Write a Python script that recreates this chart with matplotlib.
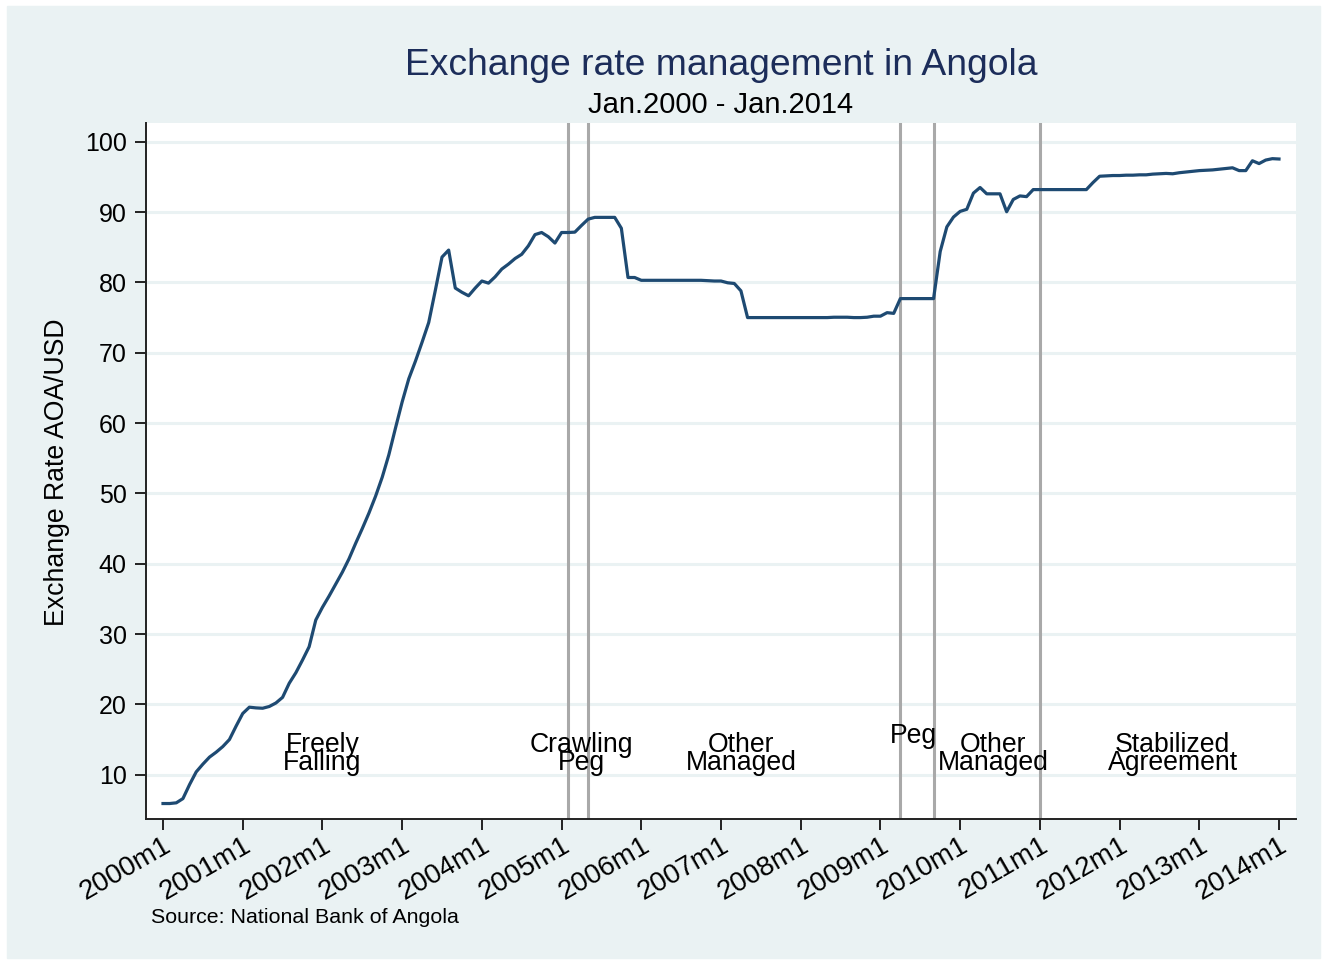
import numpy as np
import matplotlib.pyplot as plt
from matplotlib.patches import Rectangle

plt.rcParams['font.family'] = ['Liberation Sans', 'DejaVu Sans']

# monthly exchange rate AOA/USD, 2000m1 .. 2014m1 (one row per year)
rate = [
    5.9, 5.9, 6.0, 6.6, 8.6, 10.4, 11.5, 12.5, 13.2, 14.0, 15.0, 16.9,
    18.7, 19.6, 19.5, 19.45, 19.7, 20.2, 21.0, 23.0, 24.5, 26.3, 28.2, 32.0,
    33.8, 35.4, 37.1, 38.8, 40.7, 42.9, 45.0, 47.2, 49.6, 52.3, 55.5, 59.3,
    63.0, 66.3, 68.8, 71.5, 74.3, 78.9, 83.6, 84.6, 79.2, 78.6, 78.1, 79.2,
    80.2, 79.9, 80.8, 81.9, 82.6, 83.4, 84.0, 85.2, 86.8, 87.1, 86.5, 85.6,
    87.1, 87.1, 87.15, 88.1, 89.0, 89.25, 89.25, 89.25, 89.25, 87.7, 80.7, 80.7,
    80.3, 80.3, 80.3, 80.3, 80.3, 80.3, 80.3, 80.3, 80.3, 80.3, 80.25, 80.2,
    80.2, 79.95, 79.85, 78.8, 75.0, 75.0, 75.0, 75.0, 75.0, 75.0, 75.0, 75.0,
    75.0, 75.0, 75.0, 75.0, 75.0, 75.05, 75.05, 75.05, 75.0, 75.0, 75.05, 75.2,
    75.2, 75.7, 75.6, 77.7, 77.7, 77.7, 77.7, 77.7, 77.7, 84.4, 87.9, 89.3,
    90.1, 90.4, 92.7, 93.5, 92.6, 92.6, 92.6, 90.05, 91.8, 92.3, 92.2, 93.2,
    93.2, 93.2, 93.2, 93.2, 93.2, 93.2, 93.2, 93.2, 94.2, 95.1, 95.15, 95.2,
    95.2, 95.25, 95.25, 95.3, 95.3, 95.4, 95.45, 95.5, 95.45, 95.6, 95.7, 95.8,
    95.9, 95.95, 96.0, 96.1, 96.2, 96.3, 95.9, 95.9, 97.3, 96.9, 97.4, 97.6,
    97.55,
]
months = np.arange(len(rate))  # 0 = 2000m1

years = list(range(2000, 2015))
tick_months = [12 * (y - 2000) for y in years]
tick_labels = [f'{y}m1' for y in years]

# regime changes (months since 2000m1) and regime names
breaks = [61, 64, 111, 116, 132]
regimes = ['Freely\nFalling', 'Crawling\nPeg', 'Other\nManaged', 'Peg',
           'Other\nManaged', 'Stabilized\nAgreement']
regime_x = [24, 63, 87, 113, 125, 152]
regime_y = [10.6, 10.6, 10.6, 14.5, 10.6, 10.6]  # baseline of last line

W, H = 1327, 963
fig = plt.figure(figsize=(W / 100, H / 100), dpi=100, facecolor='white')
fig.patches.append(Rectangle((7 / W, 1 - 958 / H), (1320 - 7) / W, (958 - 6) / H,
                             transform=fig.transFigure, color='#eaf2f3', zorder=-5))

ax = fig.add_axes([146 / W, 1 - 819 / H, (1296 - 146) / W, (819 - 123) / H])
ax.set_facecolor('white')

ax.plot(months, rate, color='#1e4a72', lw=2.3, zorder=3)
for b in breaks:
    ax.axvline(b, color='#a9a9a9', lw=2.2, zorder=2)

for txt, x, y in zip(regimes, regime_x, regime_y):
    ax.text(x, y, txt, ha='center', va='baseline', fontsize=19.2,
            linespacing=0.62, zorder=4)

ax.set_xlim(-2.56, 170.56)
ax.set_ylim(3.7, 102.67)
ax.set_yticks(range(10, 101, 10))
ax.set_xticks(tick_months)
ax.set_xticklabels(tick_labels, rotation=30, ha='right', va='top',
                   rotation_mode='anchor')
ax.tick_params(axis='both', direction='out', length=8, width=1.4,
               colors='#222222', labelcolor='black', labelsize=18)
ax.tick_params(axis='y', pad=6)
ax.tick_params(axis='x', pad=2, labelsize=20)

ax.grid(axis='y', color='#eaf2f3', lw=2.2)
ax.set_axisbelow(True)
for s in ['top', 'right']:
    ax.spines[s].set_visible(False)
for s in ['left', 'bottom']:
    ax.spines[s].set_color('#222222')
    ax.spines[s].set_linewidth(1.4)

fig.text(57 / W, 1 - 472 / H, 'Exchange Rate AOA/USD', rotation=90,
         ha='center', va='center', fontsize=19.2)
fig.text(721 / W, 1 - 75 / H, 'Exchange rate management in Angola',
         ha='center', va='baseline', fontsize=26.8, color='#1c2d5a')
fig.text(721 / W, 1 - 113 / H, 'Jan.2000 - Jan.2014',
         ha='center', va='baseline', fontsize=21)
fig.text(151 / W, 1 - 923 / H, 'Source: National Bank of Angola',
         ha='left', va='baseline', fontsize=15.4)

fig.savefig('out.png', dpi=100, facecolor='white')
